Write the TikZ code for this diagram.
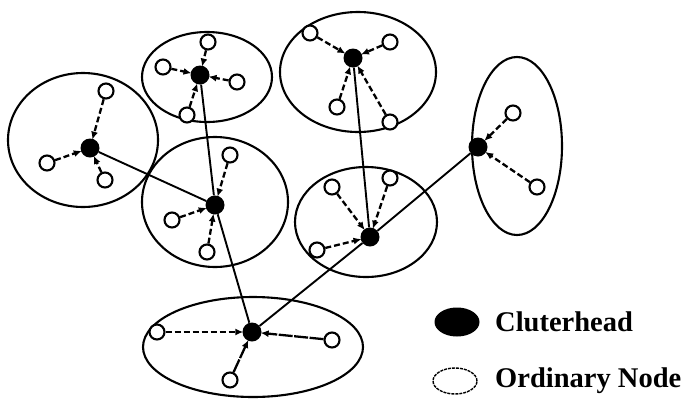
\documentclass[tikz,border=0pt]{standalone}
\usepackage{fontspec}
\setmainfont{Liberation Serif}
\usetikzlibrary{arrows.meta,shapes.geometric}
\begin{document}
\begin{tikzpicture}[x=1pt,y=-1pt,
  ch/.style={circle,fill=black,minimum size=19pt,inner sep=0pt},
  on/.style={circle,draw,line width=2.1pt,minimum size=15pt,inner sep=0pt,fill=white},
  cl/.style={line width=2.1pt},
  da/.style={line width=2.3pt,dash pattern=on 6pt off 3pt,-{Latex[length=8pt,width=7pt]},shorten >=-1pt},
  li/.style={line width=1.9pt},
  lg/.style={anchor=west,font=\fontsize{28.5}{31}\selectfont\bfseries,inner sep=0pt}]
\useasboundingbox (0,0) rectangle (689,400);
% cluster boundaries
\draw[cl] (83,140) ellipse [x radius=75,y radius=67];
\draw[cl] (207,77) ellipse [x radius=65,y radius=45];
\draw[cl] (358,72) ellipse [x radius=78,y radius=60];
\draw[cl] (215,202) ellipse [x radius=73,y radius=65];
\draw[cl] (366,222) ellipse [x radius=71,y radius=55];
\draw[cl] (517,146) ellipse [x radius=45,y radius=89];
\draw[cl] (253,347) ellipse [x radius=110,y radius=50];
% cluster heads
\node[ch] (h1) at (90,148) {};
\node[ch] (h2) at (200,75) {};
\node[ch] (h3) at (353,58) {};
\node[ch] (h4) at (215,205) {};
\node[ch] (h5) at (370,237) {};
\node[ch] (h6) at (478,147) {};
\node[ch] (h7) at (252,332) {};
% ordinary nodes
\node[on] (a1) at (106,91) {};
\node[on] (a2) at (47,163) {};
\node[on] (a3) at (105,180) {};
\node[on] (b1) at (208,42) {};
\node[on] (b2) at (163,67) {};
\node[on] (b3) at (237,82) {};
\node[on] (b4) at (187,115) {};
\node[on] (c1) at (310,33) {};
\node[on] (c2) at (390,42) {};
\node[on] (c3) at (337,107) {};
\node[on] (c4) at (390,122) {};
\node[on] (d1) at (230,155) {};
\node[on] (d2) at (172,220) {};
\node[on] (d3) at (207,252) {};
\node[on] (e1) at (332,187) {};
\node[on] (e2) at (390,178) {};
\node[on] (e3) at (317,250) {};
\node[on] (f1) at (513,113) {};
\node[on] (f2) at (537,187) {};
\node[on] (g1) at (157,332) {};
\node[on] (g2) at (332,340) {};
\node[on] (g3) at (230,380) {};
% backbone links
\draw[li] (h1) -- (h4);
\draw[li] (h2) -- (h4);
\draw[li] (h4) -- (h7);
\draw[li] (h3) -- (h5);
\draw[li] (h5) -- (h7);
\draw[li] (h5) -- (h6);
% member links
\foreach \o/\h in {a1/h1,a2/h1,a3/h1,b1/h2,b2/h2,b3/h2,b4/h2,c1/h3,c2/h3,c3/h3,c4/h3,
                   d1/h4,d2/h4,d3/h4,e1/h5,e2/h5,e3/h5,f1/h6,f2/h6,g1/h7}
  \draw[da] (\o) -- (\h);
\draw[da,dash pattern=on 14pt off 1.5pt] (g2) -- (h7);
\draw[da,dash pattern=on 14pt off 1.5pt] (g3) -- (h7);
% legend
\node[ellipse,fill=black,minimum width=45pt,minimum height=29pt,inner sep=0pt] (lch) at (457,322) {};
\node[ellipse,draw,line width=1.4pt,dash pattern=on 3pt off 1pt,minimum width=44pt,minimum height=26pt,inner sep=0pt] (lon) at (455,381) {};
\node[lg] (tch) at (495,322) {Cluterhead};
\node[lg] (ton) at (495,381) {Ordinary Node};
\end{tikzpicture}
\end{document}
